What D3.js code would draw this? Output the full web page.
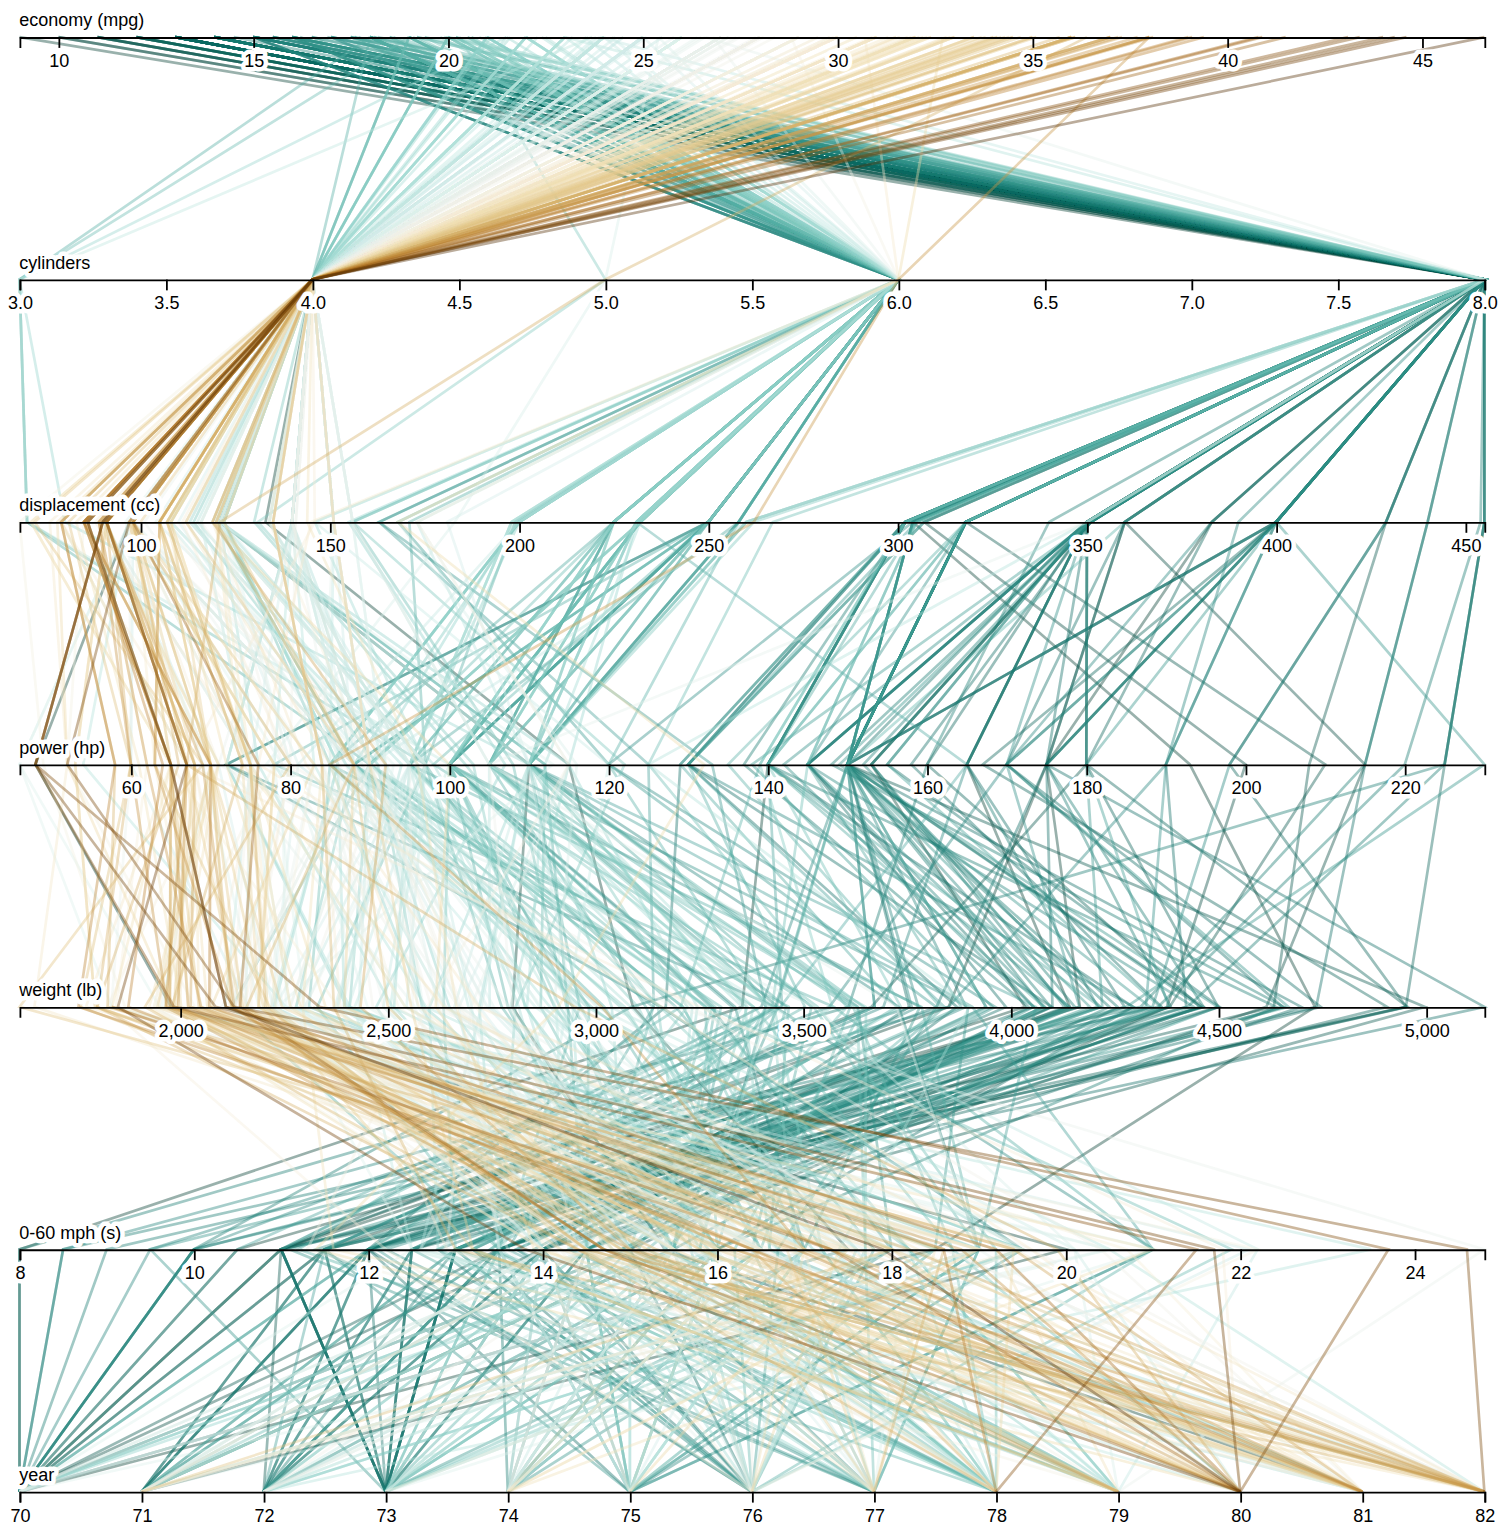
<!DOCTYPE html>
<html><head><meta charset="utf-8">
<style>html,body{margin:0;padding:0;background:#fff}svg{display:block}</style>
<script src="https://cdn.jsdelivr.net/npm/d3@7"></script>
</head><body><div id="chart"></div>
<script>
// columns: economy, cylinders, displacement, power, weight, 0-60, year
const keys = ["economy (mpg)","cylinders","displacement (cc)","power (hp)","weight (lb)","0-60 mph (s)","year"];
const carsNoEconomy = [[null,4,133,115,3090,17.5,70],[null,8,350,165,4142,11.5,70],[null,8,351,153,4034,11,70],[null,8,383,175,4166,10.5,70],[null,8,360,175,3850,11,70],[null,8,302,140,3353,8,70],[null,4,97,48,1978,20,71],[null,4,121,110,2800,15.4,81]];
const cars70 = [[18,8,307,130,3504,12,70],[15,8,350,165,3693,11.5,70],[18,8,318,150,3436,11,70],[16,8,304,150,3433,12,70],[17,8,302,140,3449,10.5,70],[15,8,429,198,4341,10,70],[14,8,454,220,4354,9,70],[14,8,440,215,4312,8.5,70],[14,8,455,225,4425,10,70],[15,8,390,190,3850,8.5,70],[15,8,383,170,3563,10,70],[14,8,340,160,3609,8,70],[15,8,400,150,3761,9.5,70],[14,8,455,225,3086,10,70],[24,4,113,95,2372,15,70],[22,6,198,95,2833,15.5,70],[18,6,199,97,2774,15.5,70],[21,6,200,85,2587,16,70],[27,4,97,88,2130,14.5,70],[26,4,97,46,1835,20.5,70],[25,4,110,87,2672,17.5,70],[24,4,107,90,2430,14.5,70],[25,4,104,95,2375,17.5,70],[26,4,121,113,2234,12.5,70],[21,6,199,90,2648,15,70],[10,8,360,215,4615,14,70],[10,8,307,200,4376,15,70],[11,8,318,210,4382,13.5,70],[9,8,304,193,4732,18.5,70]];
const cars71 = [[27,4,97,88,2130,14.5,71],[28,4,140,90,2264,15.5,71],[25,4,113,95,2228,14,71],[25,4,98,null,2046,19,71],[19,6,232,100,2634,13,71],[16,6,225,105,3439,15.5,71],[17,6,250,100,3329,15.5,71],[19,6,250,88,3302,15.5,71],[18,6,232,100,3288,15.5,71],[14,8,350,165,4209,12,71],[14,8,400,175,4464,11.5,71],[14,8,351,153,4154,13.5,71],[14,8,318,150,4096,13,71],[12,8,383,180,4955,11.5,71],[13,8,400,170,4746,12,71],[13,8,400,175,5140,12,71],[18,6,258,110,2962,13.5,71],[22,4,140,72,2408,19,71],[19,6,250,100,3282,15,71],[18,6,250,88,3139,14.5,71],[23,4,122,86,2220,14,71],[28,4,116,90,2123,14,71],[30,4,79,70,2074,19.5,71],[30,4,88,76,2065,14.5,71],[31,4,71,65,1773,19,71],[35,4,72,69,1613,18,71],[27,4,97,60,1834,19,71],[26,4,91,70,1955,20.5,71]];
const cars72 = [[24,4,113,95,2278,15.5,72],[25,4,97.5,80,2126,17,72],[23,4,97,54,2254,23.5,72],[20,4,140,90,2408,19.5,72],[21,4,122,86,2226,16.5,72],[13,8,350,165,4274,12,72],[14,8,400,175,4385,12,72],[15,8,318,150,4135,13.5,72],[14,8,351,153,4129,13,72],[17,8,304,150,3672,11.5,72],[11,8,429,208,4633,11,72],[13,8,350,155,4502,13.5,72],[12,8,350,160,4456,13.5,72],[13,8,400,190,4422,12.5,72],[19,3,70,97,2330,13.5,72],[15,8,304,150,3892,12.5,72],[13,8,307,130,4098,14,72],[13,8,302,140,4294,16,72],[14,8,318,150,4077,14,72],[18,4,121,112,2933,14.5,72],[22,4,121,76,2511,18,72],[21,4,120,87,2979,19.5,72],[26,4,96,69,2189,18,72],[22,4,122,86,2395,16,72],[28,4,97,92,2288,17,72],[23,4,120,97,2506,14.5,72],[28,4,98,80,2164,15,72],[27,4,97,88,2100,16.5,72]];
const cars73 = [[13,8,350,175,4100,13,73],[14,8,304,150,3672,11.5,73],[13,8,350,145,3988,13,73],[14,8,302,137,4042,14.5,73],[15,8,318,150,3777,12.5,73],[12,8,429,198,4952,11.5,73],[13,8,400,150,4464,12,73],[13,8,351,158,4363,13,73],[14,8,318,150,4237,14.5,73],[13,8,440,215,4735,11,73],[12,8,455,225,4951,11,73],[13,8,360,175,3821,11,73],[18,6,225,105,3121,16.5,73],[16,6,250,100,3278,18,73],[18,6,232,100,2945,16,73],[18,6,250,88,3021,16.5,73],[23,6,198,95,2904,16,73],[26,4,97,46,1950,21,73],[11,8,400,150,4997,14,73],[12,8,400,167,4906,12.5,73],[13,8,360,170,4654,13,73],[12,8,350,180,4499,12.5,73],[18,6,232,100,2789,15,73],[20,4,97,88,2279,19,73],[21,4,140,72,2401,19.5,73],[22,4,108,94,2379,16.5,73],[18,3,70,90,2124,13.5,73],[19,4,122,85,2310,18.5,73],[21,6,155,107,2472,14,73],[26,4,98,90,2265,15.5,73],[15,8,350,145,4082,13,73],[16,8,400,230,4278,9.5,73],[29,4,68,49,1867,19.5,73],[24,4,116,75,2158,15.5,73],[20,4,114,91,2582,14,73],[19,4,121,112,2868,15.5,73],[15,8,318,150,3399,11,73],[24,4,121,110,2660,14,73],[20,6,156,122,2807,13.5,73],[11,8,350,180,3664,11,73]];
const cars74 = [[20,6,198,95,3102,16.5,74],[21,6,200,null,2875,17,74],[19,6,232,100,2901,16,74],[15,6,250,100,3336,17,74],[31,4,79,67,1950,19,74],[26,4,122,80,2451,16.5,74],[32,4,71,65,1836,21,74],[25,4,140,75,2542,17,74],[16,6,250,100,3781,17,74],[16,6,258,110,3632,18,74],[18,6,225,105,3613,16.5,74],[16,8,302,140,4141,14,74],[13,8,350,150,4699,14.5,74],[14,8,318,150,4457,13.5,74],[14,8,302,140,4638,16,74],[14,8,304,150,4257,15.5,74],[29,4,98,83,2219,16.5,74],[26,4,79,67,1963,15.5,74],[26,4,97,78,2300,14.5,74],[31,4,76,52,1649,16.5,74],[32,4,83,61,2003,19,74],[28,4,90,75,2125,14.5,74],[24,4,90,75,2108,15.5,74],[26,4,116,75,2246,14,74],[24,4,120,97,2489,15,74],[26,4,108,93,2391,15.5,74],[31,4,79,67,2000,16,74]];
const cars75 = [[19,6,225,95,3264,16,75],[18,6,250,105,3459,16,75],[15,6,250,72,3432,21,75],[15,6,250,72,3158,19.5,75],[16,8,400,170,4668,11.5,75],[15,8,350,145,4440,14,75],[16,8,318,150,4498,14.5,75],[14,8,351,148,4657,13.5,75],[17,6,231,110,3907,21,75],[16,6,250,105,3897,18.5,75],[15,6,258,110,3730,19,75],[18,6,225,95,3785,19,75],[21,6,231,110,3039,15,75],[20,8,262,110,3221,13.5,75],[13,8,302,129,3169,12,75],[29,4,97,75,2171,16,75],[23,4,140,83,2639,17,75],[20,6,232,100,2914,16,75],[23,4,140,78,2592,18.5,75],[24,4,134,96,2702,13.5,75],[25,4,90,71,2223,16.5,75],[24,4,119,97,2545,17,75],[18,6,171,97,2984,14.5,75],[29,4,90,70,1937,14,75],[19,6,232,90,3211,17,75],[23,4,115,95,2694,15,75],[23,4,120,88,2957,17,75],[22,4,121,98,2945,14.5,75],[25,4,121,115,2671,13.5,75],[33,4,91,53,1795,17.5,75]];
const cars76 = [[28,4,107,86,2464,15.5,76],[25,4,116,81,2220,16.9,76],[25,4,140,92,2572,14.9,76],[26,4,98,79,2255,17.7,76],[27,4,101,83,2202,15.3,76],[17.5,8,305,140,4215,13,76],[16,8,318,150,4190,13,76],[15.5,8,304,120,3962,13.9,76],[14.5,8,351,152,4215,12.8,76],[22,6,225,100,3233,15.4,76],[22,6,250,105,3353,14.5,76],[24,6,200,81,3012,17.6,76],[22.5,6,232,90,3085,17.6,76],[29,4,85,52,2035,22.2,76],[24.5,4,98,60,2164,22.1,76],[29,4,90,70,1937,14.2,76],[33,4,91,53,1795,17.4,76],[20,6,225,100,3651,17.7,76],[18,6,250,78,3574,21,76],[18.5,6,250,110,3645,16.2,76],[17.5,6,258,95,3193,17.8,76],[29.5,4,97,71,1825,12.2,76],[32,4,85,70,1990,17,76],[28,4,97,75,2155,16.4,76],[26.5,4,140,72,2565,13.6,76],[20,4,130,102,3150,15.7,76],[13,8,318,150,3940,13.2,76],[19,4,120,88,3270,21.9,76],[19,6,156,108,2930,15.5,76],[16.5,6,168,120,3820,16.7,76],[16.5,8,350,180,4380,12.1,76],[13,8,350,145,4055,12,76],[13,8,302,130,3870,15,76],[13,8,318,150,3755,14,76]];
const cars77 = [[31.5,4,98,68,2045,18.5,77],[30,4,111,80,2155,14.8,77],[36,4,79,58,1825,18.6,77],[25.5,4,122,96,2300,15.5,77],[33.5,4,85,70,1945,16.8,77],[17.5,8,305,145,3880,12.5,77],[17,8,260,110,4060,19,77],[15.5,8,318,145,4140,13.7,77],[15,8,302,130,4295,14.9,77],[17.5,6,250,110,3520,16.4,77],[20.5,6,231,105,3425,16.9,77],[19,6,225,100,3630,17.7,77],[18.5,6,250,98,3525,19,77],[16,8,400,180,4220,11.1,77],[15.5,8,350,170,4165,11.4,77],[15.5,8,400,190,4325,12.2,77],[16,8,351,149,4335,14.5,77],[29,4,97,78,1940,14.5,77],[24.5,4,151,88,2740,16,77],[26,4,97,75,2265,18.2,77],[25.5,4,140,89,2755,15.8,77],[30.5,4,98,63,2051,17,77],[33.5,4,98,83,2075,15.9,77],[30,4,97,67,1985,16.4,77],[30.5,4,97,78,2190,14.1,77],[22,6,146,97,2815,14.5,77],[21.5,4,121,110,2600,12.8,77],[21.5,3,80,110,2720,13.5,77]];
const cars78 = [[43.1,4,90,48,1985,21.5,78],[36.1,4,98,66,1800,14.4,78],[32.8,4,78,52,1985,19.4,78],[39.4,4,85,70,2070,18.6,78],[36.1,4,91,60,1800,16.4,78],[19.9,8,260,110,3365,15.5,78],[19.4,8,318,140,3735,13.2,78],[20.2,8,302,139,3570,12.8,78],[19.2,6,231,105,3535,19.2,78],[20.5,6,200,95,3155,18.2,78],[20.2,6,200,85,2965,15.8,78],[25.1,4,140,88,2720,15.4,78],[20.5,6,225,100,3430,17.2,78],[19.4,6,232,90,3210,17.2,78],[20.6,6,231,105,3380,15.8,78],[20.8,6,200,85,3070,16.7,78],[18.6,6,225,110,3620,18.7,78],[18.1,6,258,120,3410,15.1,78],[19.2,8,305,145,3425,13.2,78],[17.7,6,231,165,3445,13.4,78],[18.1,8,302,139,3205,11.2,78],[17.5,8,318,140,4080,13.7,78],[30,4,98,68,2155,16.5,78],[27.5,4,134,95,2560,14.2,78],[27.2,4,119,97,2300,14.7,78],[30.9,4,105,75,2230,14.5,78],[21.1,4,134,95,2515,14.8,78],[23.2,4,156,105,2745,16.7,78],[23.8,4,151,85,2855,17.6,78],[23.9,4,119,97,2405,14.9,78],[20.3,5,131,103,2830,15.9,78],[17,6,163,125,3140,13.6,78],[21.6,4,121,115,2795,15.7,78],[16.2,6,163,133,3410,15.8,78],[31.5,4,89,71,1990,14.9,78],[29.5,4,98,68,2135,16.6,78]];
const cars79 = [[21.5,6,231,115,3245,15.4,79],[19.8,6,200,85,2990,18.2,79],[22.3,4,140,88,2890,17.3,79],[20.2,6,232,90,3265,18.2,79],[20.6,6,225,110,3360,16.6,79],[17,8,305,130,3840,15.4,79],[17.6,8,302,129,3725,13.4,79],[16.5,8,351,138,3955,13.2,79],[18.2,8,318,135,3830,15.2,79],[16.9,8,350,155,4360,14.9,79],[15.5,8,351,142,4054,14.3,79],[19.2,8,267,125,3605,15,79],[18.5,8,360,150,3940,13,79],[31.9,4,89,71,1925,14,79],[34.1,4,86,65,1975,15.2,79],[35.7,4,98,80,1915,14.4,79],[27.4,4,121,80,2670,15,79],[25.4,5,183,77,3530,20.1,79],[23,8,350,125,3900,17.4,79],[27.2,4,141,71,3190,24.8,79],[23.9,8,260,90,3420,22.2,79],[34.2,4,105,70,2200,13.2,79],[34.5,4,105,70,2150,14.9,79],[31.8,4,85,65,2020,19.2,79],[37.3,4,91,69,2130,14.7,79],[28.4,4,151,90,2670,16,79],[28.8,6,173,115,2595,11.3,79],[26.8,6,173,115,2700,12.9,79],[33.5,4,151,90,2556,13.2,79]];
const cars80 = [[41.5,4,98,76,2144,14.7,80],[38.1,4,89,60,1968,18.8,80],[32.1,4,98,70,2120,15.5,80],[37.2,4,86,65,2019,16.4,80],[28,4,151,90,2678,16.5,80],[26.4,4,140,88,2870,18.1,80],[24.3,4,151,90,3003,20.1,80],[19.1,6,225,90,3381,18.7,80],[34.3,4,97,78,2188,15.8,80],[29.8,4,134,90,2711,15.5,80],[31.3,4,120,75,2542,17.5,80],[37,4,119,92,2434,15,80],[32.2,4,108,75,2265,15.2,80],[46.6,4,86,65,2110,17.9,80],[27.9,4,156,105,2800,14.4,80],[40.8,4,85,65,2110,19.2,80],[44.3,4,90,48,2085,21.7,80],[43.4,4,90,48,2335,23.7,80],[36.4,5,121,67,2950,19.9,80],[30,4,146,67,3250,21.8,80],[44.6,4,91,67,1850,13.8,80],[40.9,4,85,null,1835,17.3,80],[33.8,4,97,67,2145,18,80],[29.8,4,89,62,1845,15.3,80],[32.7,6,168,132,2910,11.4,80],[23.7,3,70,100,2420,12.5,80],[35,4,122,88,2500,15.1,80],[23.6,4,140,null,2905,14.3,80],[32.4,4,107,72,2290,17,80]];
const cars81 = [[27.2,4,135,84,2490,15.7,81],[26.6,4,151,84,2635,16.4,81],[25.8,4,156,92,2620,14.4,81],[23.5,6,173,110,2725,12.6,81],[30,4,135,84,2385,12.9,81],[39.1,4,79,58,1755,16.9,81],[39,4,86,64,1875,16.4,81],[35.1,4,81,60,1760,16.1,81],[32.3,4,97,67,2065,17.8,81],[37,4,85,65,1975,19.4,81],[37.7,4,89,62,2050,17.3,81],[34.1,4,91,68,1985,16,81],[34.7,4,105,63,2215,14.9,81],[34.4,4,98,65,2045,16.2,81],[29.9,4,98,65,2380,20.7,81],[33,4,105,74,2190,14.2,81],[34.5,4,100,null,2320,15.8,81],[33.7,4,107,75,2210,14.4,81],[32.4,4,108,75,2350,16.8,81],[32.9,4,119,100,2615,14.8,81],[31.6,4,120,74,2635,18.3,81],[28.1,4,141,80,3230,20.4,81],[30.7,6,145,76,3160,19.6,81],[25.4,6,168,116,2900,12.6,81],[24.2,6,146,120,2930,13.8,81],[22.4,6,231,110,3415,15.8,81],[26.6,8,350,105,3725,19,81],[20.2,6,200,88,3060,17.1,81],[17.6,6,225,85,3465,16.6,81]];
const cars82 = [[28,4,112,88,2605,19.6,82],[27,4,112,88,2640,18.6,82],[34,4,112,88,2395,18,82],[31,4,112,85,2575,16.2,82],[29,4,135,84,2525,16,82],[27,4,151,90,2735,18,82],[24,4,140,92,2865,16.4,82],[23,4,151,null,3035,20.5,82],[36,4,105,74,1980,15.3,82],[37,4,91,68,2025,18.2,82],[31,4,91,68,1970,17.6,82],[38,4,105,63,2125,14.7,82],[36,4,98,70,2125,17.3,82],[36,4,120,88,2160,14.5,82],[36,4,107,75,2205,14.5,82],[34,4,108,70,2245,16.9,82],[38,4,91,67,1965,15,82],[32,4,91,67,1965,15.7,82],[38,4,91,67,1995,16.2,82],[25,6,181,110,2945,16.4,82],[38,6,262,85,3015,17,82],[26,4,156,92,2585,14.5,82],[22,6,232,112,2835,14.7,82],[32,4,144,96,2665,13.9,82],[36,4,135,84,2370,13,82],[27,4,151,90,2950,17.3,82],[27,4,140,86,2790,15.6,82],[44,4,97,52,2130,24.6,82],[32,4,135,84,2295,11.6,82],[28,4,120,79,2625,18.6,82],[31,4,119,82,2720,19.4,82]];
const sortedRows = [cars70,cars71,cars72,cars73,cars74,cars75,cars76,cars77,cars78,cars79,cars80,cars81,cars82].flat().sort((a,b) => d3.ascending(a[0],b[0]));
const rows = carsNoEconomy.concat(sortedRows);

const W = 1508, H = 1540, s = 1.8;
const x0 = 19.5/s, x1 = 1484.4/s, y0 = 37.1/s, y1 = 1491.8/s;
const svg = d3.select("#chart").append("svg")
  .attr("width", W).attr("height", H).attr("viewBox", [0,0,W/s,H/s])
  .style("font", "10px 'Liberation Sans', sans-serif");

const x = keys.map((k,i) => d3.scaleLinear(d3.extent(rows, r => r[i]), [x0, x1]));
const y = d3.scalePoint(keys, [y0, y1]);
const color = d3.scaleSequential(x[0].domain(), t => d3.interpolateBrBG(1 - t));
const line = d3.line().defined(d => d[0] != null).x(d => d[1](d[0])).y(d => d[2]);

svg.append("g").attr("fill","none").attr("stroke-width",1.5).attr("stroke-opacity",0.4)
  .selectAll("path")
  .data(rows)
  .join("path")
  .attr("stroke", r => color(r[0] ?? 0))
  .attr("d", r => line(r.map((v,i) => [v, x[i], y(keys[i])])));

const axes = svg.append("g").selectAll("g").data(keys).join("g")
  .attr("transform", k => `translate(0,${y(k)})`)
  .each(function(k,i){ d3.select(this).call(d3.axisBottom(x[i]).ticks(9.28)); });
axes.selectAll(".tick text").attr("y", 9.5);
axes.append("text").attr("x", 19.2/s).attr("y",-6).attr("text-anchor","start").attr("fill","currentColor").text(k => k);
axes.selectAll("text").clone(true).lower().attr("fill","none").attr("stroke-width",5).attr("stroke-linejoin","round").attr("stroke","white");
</script></body></html>
